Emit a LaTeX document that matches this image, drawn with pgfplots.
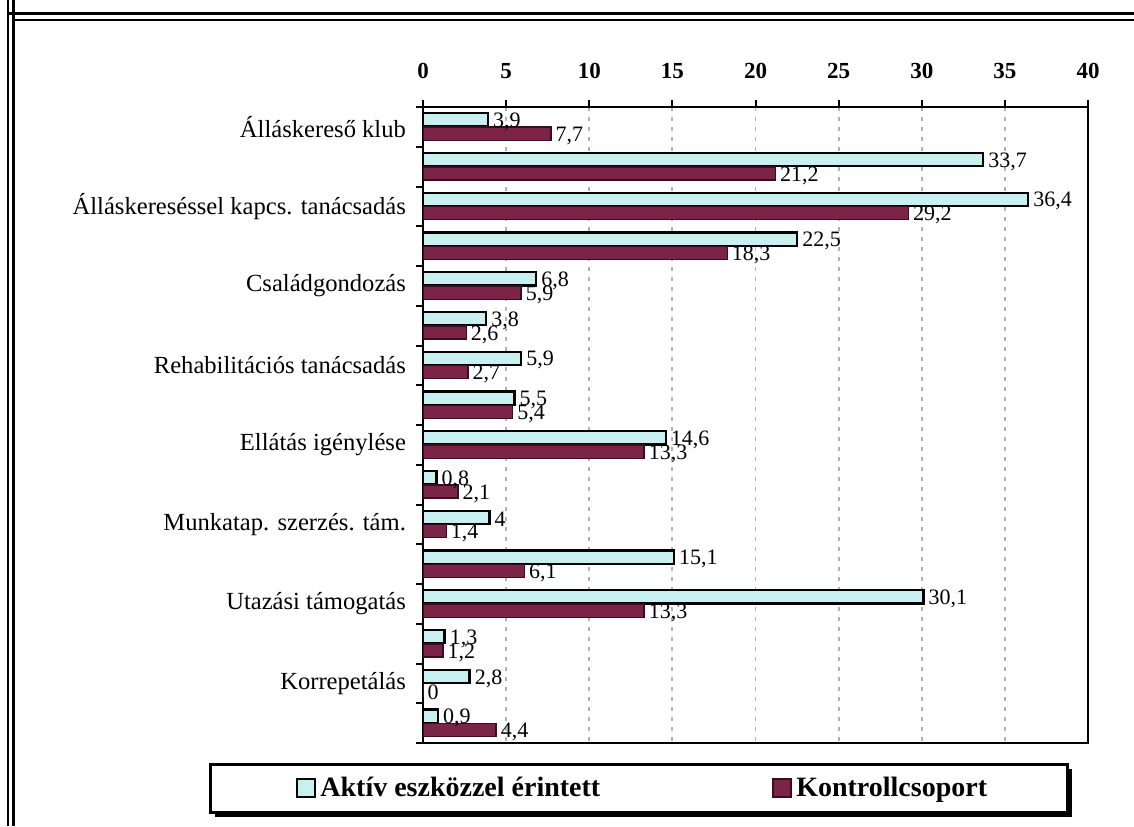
\documentclass[border=0pt]{standalone}
\usepackage{fontspec}
\setmainfont{Liberation Serif}
\usepackage{pgfplots}
\pgfplotsset{compat=1.18}
\definecolor{akt}{HTML}{C8F0F0}
\definecolor{kon}{HTML}{7B2447}
\definecolor{konE}{HTML}{3A0E20}
\pgfplotstableread{
idx akt kon
0 3.9 7.7
1 33.7 21.2
2 36.4 29.2
3 22.5 18.3
4 6.8 5.9
5 3.8 2.6
6 5.9 2.7
7 5.5 5.4
8 14.6 13.3
9 0.8 2.1
10 4 1.4
11 15.1 6.1
12 30.1 13.3
13 1.3 1.2
14 2.8 0
15 0.9 4.4
}\datatable
\begin{document}
\begin{tikzpicture}
\useasboundingbox (0,0) rectangle (567pt,413pt);
% outer frame
\draw[line width=1.5pt] (6.5pt,413pt) -- (6.5pt,0);
\draw[line width=0.8pt] (4pt,413pt) -- (4pt,0);
\draw[line width=1.5pt] (4pt,406pt) -- (567pt,406pt);
\draw[line width=0.8pt] (6.5pt,403pt) -- (567pt,403pt);
% legend box
\fill[black] (107.5pt,4.5pt) rectangle (536pt,28.5pt);
\draw[line width=1.5pt, fill=white] (105pt,7pt) rectangle (533.5pt,31pt);
\begin{axis}[
  at={(211.5pt,41.5pt)}, anchor=south west,
  scale only axis, width=332.5pt, height=318pt,
  xbar, bar width=6.6pt,
  xmin=0, xmax=40, ymin=-0.5, ymax=15.5, y dir=reverse,
  xtick={0,5,...,40},
  xtick pos=upper, xticklabel pos=upper,
  tick align=outside, major tick length=3.5pt,
  ytick={-0.5,0.5,...,15.5}, yticklabels={},
  ytick pos=left,
  extra y ticks={0,2,...,14},
  extra y tick labels={Álláskereső klub,Álláskereséssel kapcs. tanácsadás,Családgondozás,Rehabilitációs tanácsadás,Ellátás igénylése,Munkatap. szerzés. tám.,Utazási támogatás,Korrepetálás},
  extra y tick style={major tick length=0pt, yticklabel style={font=\fontsize{12.3}{14}\selectfont, xshift=-5pt}},
  xmajorgrids,
  major grid style={dash pattern=on 2pt off 3pt, black!30, line width=0.9pt},
  axis line style={line width=1.3pt},
  tick style={black, line width=1pt},
  xticklabel style={font=\bfseries\fontsize{11.5}{13}\selectfont, yshift=7pt},
  /pgf/number format/assume math mode=true,
  point meta=x,
  nodes near coords={\pgfmathprintnumber[use comma]{\pgfplotspointmeta}},
  nodes near coords align=horizontal,
  every node near coord/.append style={font=\fontsize{11}{12}\selectfont, anchor=west, inner sep=2pt, yshift=-1pt, black},
  legend columns=2,
  legend style={at={(0.332,-0.0708)}, anchor=center, draw=none, fill=none,
    font=\bfseries\fontsize{14}{15}\selectfont,
    /tikz/every even column/.append style={column sep=84pt}},
  legend image code/.code={\draw[#1, line width=1pt] (0pt,-4.5pt) rectangle (9pt,4.5pt);},
]
\addplot[fill=akt, draw=black, line width=1.2pt, bar shift=3.5pt] table[x=akt, y=idx] {\datatable};
\addplot[fill=kon, draw=konE, line width=0.7pt, bar shift=-3.4pt] table[x=kon, y=idx] {\datatable};
\legend{Aktív eszközzel érintett, Kontrollcsoport}
\end{axis}
\end{tikzpicture}
\end{document}
